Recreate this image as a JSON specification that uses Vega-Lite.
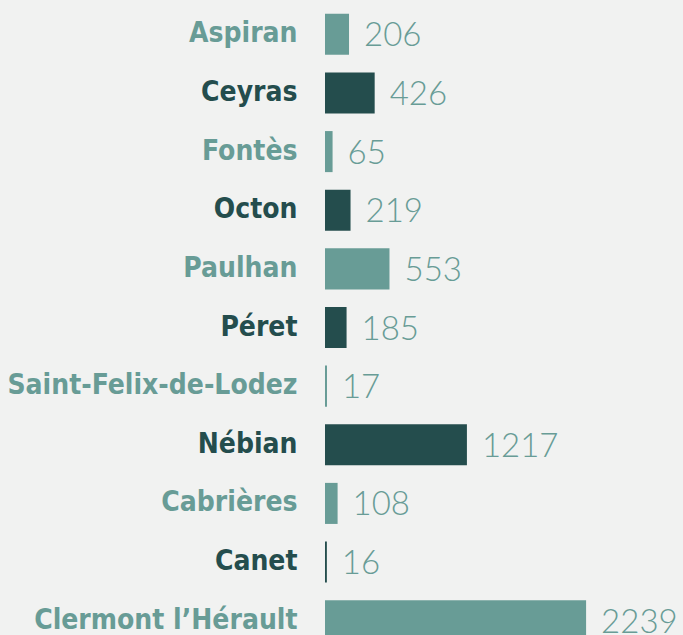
{
  "$schema": "https://vega.github.io/schema/vega-lite/v6.json",
  "width": 358,
  "height": 645,
  "padding": {"left": 325, "top": 5, "right": 0, "bottom": 0},
  "autosize": {"type": "none"},
  "background": "#f1f2f1",
  "config": {"view": {"stroke": null}},
  "data": {"values": [
    {"commune": "Aspiran", "value": 206, "grp": "a"},
    {"commune": "Ceyras", "value": 426, "grp": "b"},
    {"commune": "Fontès", "value": 65, "grp": "a"},
    {"commune": "Octon", "value": 219, "grp": "b"},
    {"commune": "Paulhan", "value": 553, "grp": "a"},
    {"commune": "Péret", "value": 185, "grp": "b"},
    {"commune": "Saint-Felix-de-Lodez", "value": 17, "grp": "a"},
    {"commune": "Nébian", "value": 1217, "grp": "b"},
    {"commune": "Cabrières", "value": 108, "grp": "a"},
    {"commune": "Canet", "value": 16, "grp": "b"},
    {"commune": "Clermont l’Hérault", "value": 2239, "grp": "a"}
  ]},
  "encoding": {
    "y": {"field": "commune", "type": "nominal", "sort": null,
      "scale": {"paddingInner": 0.3, "paddingOuter": 0.15},
      "axis": {"title": null, "domain": false, "ticks": false, "labelPadding": 28,
        "labelFont": "DejaVu Sans Condensed", "labelFontWeight": "bold", "labelFontSize": 28, "labelLimit": 400,
        "labelColor": {"expr": "indexof(['Ceyras','Octon','Péret','Nébian','Canet'], datum.value) >= 0 ? '#244d4d' : '#689c96'"}}},
    "x": {"field": "value", "type": "quantitative", "scale": {"domain": [0, 3070]}, "axis": null}
  },
  "layer": [
    {"mark": {"type": "bar"},
     "encoding": {"color": {"field": "grp", "type": "nominal", "scale": {"domain": ["a", "b"], "range": ["#689c96", "#244d4d"]}, "legend": null}}},
    {"mark": {"type": "text", "align": "left", "baseline": "middle", "dx": 15, "dy": 2, "font": "Lato", "fontWeight": 300, "fontSize": 33, "color": "#689c96"},
     "encoding": {"text": {"field": "value", "type": "quantitative", "format": "d"}}}
  ]
}
